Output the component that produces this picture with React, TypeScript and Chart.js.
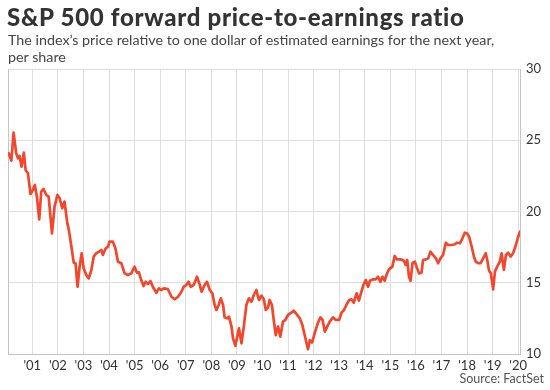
import React, { useEffect, useRef } from "react";
import { Chart, registerables } from "chart.js";

Chart.register(...registerables);

const TITLE = "S&P 500 forward price-to-earnings ratio";
const SUBTITLE_LINES = [
  "The index’s price relative to one dollar of estimated earnings for the next year,",
  "per share",
];
const SOURCE = "Source: FactSet";

const YEAR_TICKS = [2001, 2002, 2003, 2004, 2005, 2006, 2007, 2008, 2009, 2010, 2011, 2012, 2013, 2014, 2015, 2016, 2017, 2018, 2019, 2020];
const Y_TICKS = [10, 15, 20, 25, 30];

const dates = [
  2000.08, 2000.18, 2000.27, 2000.37, 2000.44, 2000.5, 2000.58, 2000.67, 2000.74, 2000.83, 2000.93,
  2001.02, 2001.1, 2001.18, 2001.27, 2001.35, 2001.44, 2001.55, 2001.64, 2001.77, 2001.87, 2001.98,
  2002.07, 2002.17, 2002.26, 2002.37, 2002.43, 2002.53, 2002.62, 2002.69, 2002.77, 2002.85, 2002.93,
  2003.01, 2003.11, 2003.21, 2003.31, 2003.4, 2003.5, 2003.61, 2003.7, 2003.76, 2003.87, 2003.96,
  2004.02, 2004.15, 2004.25, 2004.35, 2004.48, 2004.61, 2004.74, 2004.87,
  2005.0, 2005.09, 2005.17, 2005.26, 2005.35, 2005.43, 2005.52, 2005.62, 2005.72, 2005.85, 2005.95,
  2006.05, 2006.14, 2006.3, 2006.44, 2006.57, 2006.7, 2006.83, 2006.92,
  2007.02, 2007.11, 2007.19, 2007.31, 2007.44, 2007.55, 2007.62, 2007.74, 2007.83, 2007.94,
  2008.04, 2008.13, 2008.2, 2008.29, 2008.37, 2008.46, 2008.52, 2008.61, 2008.69, 2008.79, 2008.85, 2008.94,
  2009.0, 2009.08, 2009.18, 2009.27, 2009.37, 2009.47, 2009.57, 2009.66, 2009.76, 2009.86, 2009.96,
  2010.05, 2010.13, 2010.22, 2010.28, 2010.37, 2010.44, 2010.52, 2010.61, 2010.7, 2010.8, 2010.9,
  2011.0, 2011.13, 2011.22, 2011.33, 2011.46, 2011.56, 2011.65, 2011.78, 2011.85, 2011.94,
  2012.04, 2012.17, 2012.27, 2012.35, 2012.44, 2012.53, 2012.63, 2012.76, 2012.87,
  2013.0, 2013.09, 2013.19, 2013.28, 2013.39, 2013.48, 2013.57, 2013.68, 2013.77, 2013.87, 2013.96,
  2014.04, 2014.13, 2014.2, 2014.33, 2014.43, 2014.52, 2014.61, 2014.69, 2014.78, 2014.87, 2014.95,
  2015.08, 2015.17, 2015.26, 2015.4, 2015.53, 2015.6, 2015.66, 2015.73, 2015.79, 2015.87, 2015.96,
  2016.05, 2016.12, 2016.22, 2016.28, 2016.39, 2016.48, 2016.57, 2016.67, 2016.78, 2016.87, 2016.96,
  2017.06, 2017.17, 2017.26, 2017.39, 2017.52, 2017.61, 2017.72, 2017.82, 2017.91,
  2018.0, 2018.08, 2018.18, 2018.27, 2018.34, 2018.43, 2018.53, 2018.63, 2018.73, 2018.79, 2018.86, 2018.93,
  2019.02, 2019.09, 2019.18, 2019.28, 2019.35, 2019.44, 2019.52, 2019.61, 2019.7, 2019.8, 2019.91,
  2020.0, 2020.07,
];

const peRatio = [
  24.08, 23.57, 25.53, 24.08, 23.73, 23.9, 23.14, 24.13, 22.9, 22.68, 21.23,
  21.5, 21.86, 21.04, 19.45, 21.39, 21.58, 21.16, 21.04, 18.47, 20.34, 21.16,
  20.93, 20.23, 20.7, 19.17, 18.7, 17.53, 16.41, 16.37, 14.72, 16.13, 17.07,
  16.0, 15.54, 15.31, 15.9, 16.83, 17.07, 17.18, 17.3, 16.95, 17.42, 17.53,
  17.88, 17.88, 17.42, 16.48, 16.37, 15.66, 15.54, 15.66,
  16.13, 15.71, 15.73, 15.19, 14.77, 15.07, 14.91, 15.12, 14.68, 14.3, 14.61,
  14.49, 14.61, 14.56, 14.02, 13.84, 14.02, 14.37, 14.72,
  14.84, 15.07, 14.72, 14.84, 15.42, 14.84, 14.37, 14.84, 15.07, 14.49,
  14.26, 13.44, 13.09, 13.44, 13.91, 13.44, 12.57, 12.5, 12.62, 11.92, 11.1, 10.58,
  11.1, 11.8, 10.75, 11.92, 13.44, 13.91, 13.67, 14.14, 14.49, 13.79, 14.09,
  13.86, 13.09, 13.28, 13.79, 13.44, 12.39, 11.33, 11.92, 11.22, 12.27, 12.39,
  12.74, 12.9, 13.04, 12.81, 12.5, 12.03, 11.33, 10.33, 10.98, 10.8,
  11.45, 12.2, 12.57, 12.39, 11.57, 11.92, 12.27, 12.57, 12.39,
  12.39, 12.9, 13.09, 13.44, 13.79, 13.84, 13.6, 14.26, 13.74, 14.37, 14.91,
  15.19, 14.72, 15.14, 15.24, 15.24, 15.42, 15.07, 15.42, 15.14, 15.66, 15.94,
  16.13, 16.88, 16.64, 16.64, 16.55, 16.25, 16.6, 15.42, 15.14, 16.41, 16.48,
  16.01, 15.66, 15.71, 16.6, 16.64, 16.71, 17.18, 16.95, 16.71, 16.37, 16.71,
  16.95, 17.81, 17.65, 17.65, 17.7, 17.81, 17.77, 18.12, 18.51,
  18.47, 18.23, 17.53, 16.83, 16.48, 16.37, 16.37, 16.71, 17.07, 16.6, 15.85, 15.66,
  14.54, 15.78, 16.13, 16.48, 17.07, 15.9, 16.95, 17.11, 16.83, 17.07, 17.65,
  18.23, 18.58,
];

const X_MIN = 2000.05;
const X_MAX = 2020.07;

const FONT = "Lato, 'Open Sans', sans-serif";
const LINE_COLOR = "#f2472c";
const GRID_COLOR = "#dedede";
const BORDER_COLOR = "#c4c4c4";

const frameBorder = {
  id: "frameBorder",
  beforeDatasetsDraw(chart: any) {
    const { ctx, chartArea } = chart;
    ctx.save();
    ctx.strokeStyle = BORDER_COLOR;
    ctx.lineWidth = 1;
    ctx.beginPath();
    const x = Math.round(chartArea.left) + 0.5;
    ctx.moveTo(x, chartArea.top);
    ctx.lineTo(x, chartArea.bottom);
    ctx.stroke();
    ctx.restore();
  },
};

export default function App() {
  const ref = useRef<HTMLCanvasElement | null>(null);

  useEffect(() => {
    if (!ref.current) return;
    const points = dates.map((d, i) => ({ x: d, y: peRatio[i] }));
    const chart = new Chart(ref.current, {
      type: "line",
      data: {
        datasets: [
          {
            data: points,
            borderColor: LINE_COLOR,
            borderWidth: 2.7,
            pointRadius: 0,
            tension: 0,
            borderJoinStyle: "round",
            borderCapStyle: "round",
            fill: false,
          },
        ],
      },
      options: {
        responsive: false,
        animation: false,
        layout: { padding: { left: 8, top: 69, right: 0, bottom: 0 } },
        plugins: {
          legend: { display: false },
          tooltip: { enabled: false },
          title: { display: false },
        },
        scales: {
          x: {
            type: "linear",
            min: X_MIN,
            max: X_MAX,
            afterBuildTicks: (s: any) => {
              s.ticks = YEAR_TICKS.map((v) => ({ value: v }));
            },
            afterFit: (s: any) => {
              s.height = 36;
            },
            ticks: {
              autoSkip: false,
              maxRotation: 0,
              padding: 4,
              color: "#333",
              font: { family: FONT, size: 13 },
              callback: (v: any) => "'" + String(v).slice(2),
            },
            grid: { color: GRID_COLOR, lineWidth: 1, drawTicks: false },
            border: { display: true, color: BORDER_COLOR },
          },
          y: {
            position: "right",
            min: 10,
            max: 30,
            afterBuildTicks: (s: any) => {
              s.ticks = Y_TICKS.map((v) => ({ value: v }));
            },
            afterFit: (s: any) => {
              s.width = 30;
            },
            ticks: {
              padding: 6,
              color: "#333",
              font: { family: FONT, size: 13 },
            },
            grid: { color: GRID_COLOR, lineWidth: 1, drawTicks: false },
            border: { display: true, color: BORDER_COLOR },
          },
        },
      },
      plugins: [frameBorder],
    });
    return () => chart.destroy();
  }, []);

  return (
    <div style={{ position: "absolute", left: 0, top: 0, width: 550, height: 390, background: "#fff", overflow: "hidden" }}>
      <canvas ref={ref} width={550} height={390} style={{ position: "absolute", left: 0, top: 0, width: 550, height: 390 }} />
      <div
        style={{
          position: "absolute",
          left: 7,
          top: 4,
          fontFamily: FONT,
          fontWeight: 900,
          fontSize: 24,
          letterSpacing: "0.7px",
          lineHeight: "26px",
          color: "#333",
          whiteSpace: "nowrap",
        }}
      >
        {TITLE}
      </div>
      <div
        style={{
          position: "absolute",
          left: 8,
          top: 32,
          fontFamily: FONT,
          fontWeight: 400,
          fontSize: 14.3,
          lineHeight: "16.5px",
          color: "#444",
          whiteSpace: "nowrap",
        }}
      >
        {SUBTITLE_LINES.map((t, i) => (
          <div key={i}>{t}</div>
        ))}
      </div>
      <div
        style={{
          position: "absolute",
          right: 6,
          top: 371,
          fontFamily: FONT,
          fontSize: 12.5,
          lineHeight: "15px",
          color: "#555",
          whiteSpace: "nowrap",
        }}
      >
        {SOURCE}
      </div>
    </div>
  );
}
